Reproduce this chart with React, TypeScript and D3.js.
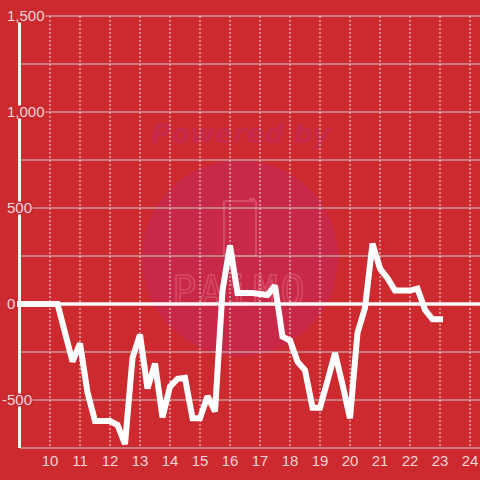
import React from "react";
import * as d3 from "d3";

const times: number[] = [
  9, 9.25, 9.5, 9.75, 10, 10.25, 10.5, 10.75, 11, 11.25, 11.5, 11.75, 12, 12.25, 12.5, 12.75,
  13, 13.25, 13.5, 13.75, 14, 14.25, 14.5, 14.75, 15, 15.25, 15.5, 15.75, 16, 16.25, 16.5, 16.75,
  17, 17.25, 17.5, 17.75, 18, 18.25, 18.5, 18.75, 19, 19.25, 19.5, 19.75, 20, 20.25, 20.5, 20.75,
  21, 21.25, 21.5, 21.75, 22, 22.25, 22.5, 22.75, 23,
];
const values: number[] = [
  0, 0, 0, 0, 0, 0, -150, -300, -205, -460, -610, -610, -610, -630, -730, -280,
  -160, -440, -310, -590, -430, -390, -385, -595, -595, -480, -560, 70, 305, 57, 57, 57,
  52, 47, 95, -170, -190, -300, -345, -540, -540, -400, -255, -420, -595, -150, -20, 315,
  185, 135, 70, 70, 70, 80, -30, -80, -80,
];
const xTicks: number[] = [10, 11, 12, 13, 14, 15, 16, 17, 18, 19, 20, 21, 22, 23, 24];
const yGrid: number[] = [-750, -500, -250, 0, 250, 500, 750, 1000, 1250, 1500];
const yLabels: number[] = [-500, 0, 500, 1000, 1500];

const W = 480;
const H = 480;
const BG = "#cc2a2f";
const LABEL = "#f2d4d8";
const GRID = "#c9c9c9";

export default function App() {
  const x = d3.scaleLinear().domain([9, 9 + 460 / 30]).range([20, 480]);
  const y = d3.scaleLinear().domain([-750, 1500]).range([448, 16]);
  const line = d3
    .line<number>()
    .x((_, i) => x(times[i]))
    .y((d) => y(d));
  const fmt = (v: number) => d3.format(",")(v).replace("\u2212", "-");
  const fs = 15;
  const textW = (s: string) =>
    s.split("").reduce((a, c) => a + (c === "," ? 0.278 : c === "-" ? 0.333 : 0.556) * fs, 0);

  return (
    <svg
      width={W}
      height={H}
      style={{ position: "absolute", left: 0, top: 0 }}
      fontFamily="'Liberation Sans', Arial, sans-serif"
    >
      <rect x={0} y={0} width={W} height={H} fill={BG} />
      {/* watermark */}
      <g>
        <circle cx={240} cy={258} r={98} fill="#c92949" />
        <text
          x={241}
          y={143}
          textAnchor="middle"
          fontFamily="'DejaVu Sans', sans-serif"
          fontWeight="bold"
          fontStyle="italic"
          fontSize={27}
          fill="#c6294a"
        >
          Powered by
        </text>
        <path
          d="M226,201 h28 a2,2 0 0 1 2,2 v51 a2,2 0 0 1 -2,2 h-28 a2,2 0 0 1 -2,-2 v-51 a2,2 0 0 1 2,-2 Z M250,201 v-2 h4 v2"
          fill="none"
          stroke="#d64c66"
          strokeWidth={2}
        />
        <text
          x={240}
          y={305}
          textAnchor="middle"
          fontFamily="'DejaVu Sans Mono', monospace"
          fontSize={40}
          letterSpacing={3}
          fill="none"
          stroke="#d64c66"
          strokeWidth={1.5}
        >
          PAiMO
        </text>
      </g>
      {/* horizontal grid */}
      {yGrid.map((v) => (
        <line key={"h" + v} x1={20} x2={W} y1={y(v)} y2={y(v)} stroke={GRID} strokeWidth={1} />
      ))}
      {/* vertical dashed grid */}
      {xTicks.map((t) => (
        <line
          key={"v" + t}
          x1={x(t)}
          x2={x(t)}
          y1={y(1500)}
          y2={y(-750)}
          stroke="#e6e6e6"
          strokeWidth={1}
          strokeDasharray="2,2"
        />
      ))}
      {/* y axis */}
      <line x1={19.5} x2={19.5} y1={y(1500)} y2={y(-750)} stroke="#f4f4f4" strokeWidth={3} />
      {/* zero line */}
      <line x1={17} x2={W} y1={y(0)} y2={y(0)} stroke="#f7f7f7" strokeWidth={3.5} />
      {/* y labels */}
      {yLabels.map((v) => {
        const s = fmt(v);
        const w = textW(s);
        const x0 = v < 0 ? 7 - 0.333 * fs : 7;
        return (
          <g key={"yl" + v}>
            <rect x={x0 - 1} y={y(v) - 6.5} width={w + 1.5} height={13} fill={BG} />
            <text x={x0} y={y(v) + 5.3} fontSize={fs} fill={LABEL}>
              {s}
            </text>
          </g>
        );
      })}
      {/* x labels */}
      {xTicks.map((t) => (
        <text key={"xl" + t} x={x(t)} y={466} textAnchor="middle" fontSize={fs} fill={LABEL}>
          {t}
        </text>
      ))}
      {/* data line */}
      <path
        d={line(values) || ""}
        fill="none"
        stroke="#ffffff"
        strokeWidth={6}
        strokeLinejoin="miter"
        strokeMiterlimit={2}
        strokeLinecap="square"
      />
    </svg>
  );
}
